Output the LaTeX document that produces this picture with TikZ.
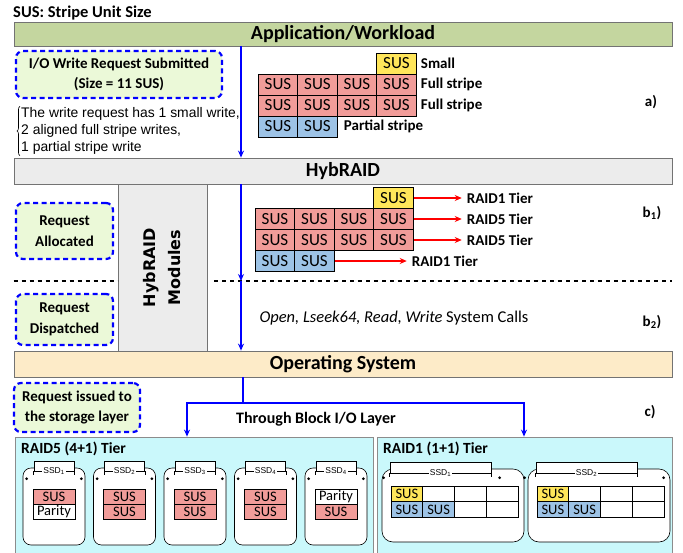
\documentclass[tikz,border=0pt]{standalone}
\usepackage{fontspec}
\setmainfont{Carlito}
\newfontfamily\arialfont{Liberation Sans}
\newfontfamily\modfont{DejaVu Sans}
\usetikzlibrary{arrows.meta,positioning,decorations.pathreplacing}

\definecolor{appgreen}{RGB}{196,214,159}
\definecolor{hybgray}{RGB}{236,236,236}
\definecolor{osbeige}{RGB}{253,235,200}
\definecolor{stagegreen}{RGB}{235,249,216}
\definecolor{tiercyan}{RGB}{202,248,251}
\definecolor{susred}{RGB}{241,156,153}
\definecolor{susyellow}{RGB}{255,230,90}
\definecolor{susblue}{RGB}{157,195,230}

\begin{document}
\begin{tikzpicture}[x=1pt, y=-1pt,
    layer/.style={draw=black!55, line width=0.8pt, minimum width=658pt, inner sep=0pt, font=\bfseries\fontsize{20}{21}\selectfont},
    stage/.style={draw=blue, line width=2.2pt, dash pattern=on 5pt off 3.5pt, rounded corners=7pt, fill=stagegreen, align=center, inner sep=0pt, font=\bfseries\fontsize{15}{20.5}\selectfont},
    cell/.style={draw=black, line width=1pt, minimum width=39.5pt, minimum height=21pt, inner sep=0pt, font=\fontsize{17}{17}\selectfont},
    lbl/.style={inner sep=0pt, font=\bfseries\fontsize{15}{16}\selectfont},
    flow/.style={-{Stealth[length=7pt,width=6pt]}, blue, line width=1.5pt},
    tierarrow/.style={-{Stealth[length=7pt,width=6pt]}, red, line width=1.5pt, shorten >=5pt},
    sep/.style={line width=1.3pt, dash pattern=on 4pt off 4pt},
    panel/.style={draw=black!45, line width=0.8pt, fill=tiercyan, minimum height=116pt, inner sep=0pt},
    disk/.style={draw=black, line width=0.6pt, fill=white, rounded corners=8pt, inner sep=0pt},
    tab/.style={draw=black, line width=0.6pt, fill=white, inner sep=0pt, minimum height=10pt},
    ssdlbl/.style={fill=white, inner sep=1pt, font=\arialfont\fontsize{8.5}{9}\selectfont},
    dcell/.style={draw=black, line width=1pt, minimum height=15pt, inner sep=0pt, font=\fontsize{14.5}{14.5}\selectfont}]

  \useasboundingbox (0,0) rectangle (683,552);

  \node[lbl, anchor=base west, font=\bfseries\fontsize{16.5}{17}\selectfont] (key) at (13,17) {SUS: Stripe Unit Size};

  \node[draw=black!55, line width=0.8pt, fill=hybgray, minimum width=89pt, minimum height=167pt] (mod) at (162.5,267.5) {};
  \node[rotate=90, align=center, font=\modfont\bfseries\fontsize{16}{25}\selectfont] (modtxt) at (mod) {HybRAID\\Modules};

  \node[layer, fill=appgreen, minimum height=24pt] (app) at (343,34) {Application/Workload};
  \node[layer, fill=hybgray, minimum height=26pt] (hyb) at (343,171) {HybRAID};
  \node[layer, fill=osbeige, minimum height=26pt] (os) at (343,364) {Operating System};

  \node[stage, minimum width=206pt, minimum height=47pt] (submit) at (119,74.5) {I/O Write Request Submitted\\(Size = 11 SUS)};
  \node[stage, minimum width=97pt, minimum height=56pt] (alloc) at (64.5,231) {Request\\Allocated};
  \node[stage, minimum width=97pt, minimum height=51pt] (disp) at (64.5,319.5) {Request\\Dispatched};
  \node[stage, minimum width=126pt, minimum height=49pt] (issued) at (77,407.5) {Request issued to\\the storage layer};

  \node[anchor=west, align=left, inner sep=1pt, font=\arialfont\fontsize{13.9}{17}\selectfont] (note) at (20,131)
    {The write request has 1 small write,\\2 aligned full stripe writes,\\1 partial stripe write};
  \draw[decorate, decoration={brace, amplitude=3pt}, line width=0.6pt] (note.south west) -- (note.north west);

  % a) request as submitted
  \node[cell, fill=susyellow] (ya) at (396.5,63.5) {SUS};
  \foreach \c in {1,...,4} {
    \node[cell, fill=susred] (fa\c) at ({238.5+39.5*\c},84.5) {SUS};
    \node[cell, fill=susred] (fb\c) at ({238.5+39.5*\c},105.5) {SUS};
  }
  \node[cell, fill=susblue] (pa1) at (278,126.5) {SUS};
  \node[cell, fill=susblue] (pa2) at (317.5,126.5) {SUS};
  \node[lbl, right=4pt of ya] (lsmall) {Small};
  \node[lbl, right=4pt of fa4] (lfull1) {Full stripe};
  \node[lbl, right=4pt of fb4] (lfull2) {Full stripe};
  \node[lbl, right=6pt of pa2] (lpart) {Partial stripe};

  % b1) allocation to tiers
  \node[cell, fill=susyellow] (yb) at (393.5,198) {SUS};
  \foreach \c in {1,...,4} {
    \node[cell, fill=susred] (ga\c) at ({235.5+39.5*\c},219) {SUS};
    \node[cell, fill=susred] (gb\c) at ({235.5+39.5*\c},240) {SUS};
  }
  \node[cell, fill=susblue] (qb1) at (275,261) {SUS};
  \node[cell, fill=susblue] (qb2) at (314.5,261) {SUS};
  \node[lbl, right=53pt of yb] (tier1a) {RAID1 Tier};
  \node[lbl, right=53pt of ga4] (tier5a) {RAID5 Tier};
  \node[lbl, right=53pt of gb4] (tier5b) {RAID5 Tier};
  \node[lbl, right=77pt of qb2] (tier1b) {RAID1 Tier};
  \draw[tierarrow] (yb) -- (tier1a);
  \draw[tierarrow] (ga4) -- (tier5a);
  \draw[tierarrow] (gb4) -- (tier5b);
  \draw[tierarrow] (qb2) -- (tier1b);

  \node[anchor=west, font=\fontsize{16.5}{17}\selectfont] (calls) at (256,318) {\textit{Open, Lseek64, Read, Write} System Calls};

  \node[lbl] (seca) at (651,102) {a)};
  \node[lbl] (secb1) at (652,213) {b\textsubscript{1})};
  \node[lbl] (secb2) at (652,322) {b\textsubscript{2})};
  \node[lbl] (secc) at (650,412) {c)};

  \coordinate (axis) at (241,0);
  \coordinate (cutR) at (214,281);
  \draw[sep] (hyb.west |- cutR) -- (mod.west |- cutR);
  \draw[sep] (cutR) -- (hyb.east |- cutR);
  \draw[flow] (app.south -| axis) -- (hyb.north -| axis);
  \draw[flow] (hyb.south -| axis) -- (cutR -| axis);
  \draw[flow] (cutR -| axis) -- (os.north -| axis);

  % c) storage tiers
  \node[panel, minimum width=358pt] (r5) at (194,495) {};
  \node[panel, minimum width=295pt] (r1) at (524.5,495) {};
  \node[lbl, anchor=west, font=\bfseries\fontsize{15.5}{16}\selectfont] (r5title) at (21,449) {RAID5 (4+1) Tier};
  \node[lbl, anchor=west, font=\bfseries\fontsize{15.5}{16}\selectfont] (r1title) at (383,449) {RAID1 (1+1) Tier};
  \node[lbl, font=\bfseries\fontsize{16}{17}\selectfont] (blk) at (316,419) {Through Block I/O Layer};

  \coordinate (split) at (243,403);
  \coordinate (toR5) at (187,403);
  \coordinate (toR1) at (524,403);
  \draw[blue, line width=1.5pt] (os.south -| split) -- (split);
  \draw[flow] (split) -- (toR5) -- (toR5 |- r5.north);
  \draw[flow] (split) -- (toR1) -- (toR1 |- r1.north);

  \foreach \i/\n/\ta/\ca/\tb/\cb in {0/1/SUS/susred/Parity/white, 1/2/SUS/susred/SUS/susred,
      2/3/SUS/susred/SUS/susred, 3/4/SUS/susred/SUS/susred, 4/4/Parity/white/SUS/susred} {
    \node[disk, minimum width=62pt, minimum height=77pt] (r5d\i) at ({54+70.5*\i},506.5) {};
    \node[tab, minimum width=40pt] (r5t\i) at ({54+70.5*\i},466) {};
    \draw[line width=0.6pt] (r5t\i.south west) -- ++(0,4) (r5t\i.south east) -- ++(0,4);
    \node[ssdlbl] (r5l\i) at (r5t\i.south) {SSD\textsubscript{\n}};
    \fill (r5d\i.north west) ++(4,11) circle (1.5pt);
    \fill (r5d\i.north east) ++(-4,11) circle (1.5pt);
    \node[dcell, fill=\ca, minimum width=42pt] (r5a\i) at ({54+70.5*\i},497) {\ta};
    \node[dcell, fill=\cb, minimum width=42pt] (r5b\i) at ({54+70.5*\i},511.5) {\tb};
  }

  \foreach \i/\n/\ld/\rd in {0/1/2/118, 1/2/-3/136} {
    \node[disk, rounded corners=11pt, minimum width=142pt, minimum height=73pt] (r1d\i) at ({453+146*\i},505.5) {};
    \node[tab, minimum width=101pt, minimum height=11pt] (r1t\i) at ({440.5+146*\i},467.5) {};
    \draw[line width=0.6pt] (r1t\i.south west) -- ++(0,4) (r1t\i.south east) -- ++(0,4);
    \node[ssdlbl] (r1l\i) at (r1t\i.south) {SSD\textsubscript{\n}};
    \fill (r1d\i.north west) ++(\ld,9) circle (1.5pt);
    \fill (r1d\i.north west) ++(\rd,9) circle (1.5pt);
    \foreach \k/\fa/\ta/\fb/\tb in {1/susyellow/SUS/susblue/SUS, 2/white/{}/susblue/SUS, 3/white/{}/white/{}, 4/white/{}/white/{}} {
      \node[dcell, fill=\fa, minimum width=31.75pt, minimum height=15.5pt] (r1u\i\k) at ({375.125+146*\i+31.75*\k},494) {\ta};
      \node[dcell, fill=\fb, minimum width=31.75pt, minimum height=15.5pt] (r1v\i\k) at ({375.125+146*\i+31.75*\k},509.5) {\tb};
    }
  }
\end{tikzpicture}
\end{document}
